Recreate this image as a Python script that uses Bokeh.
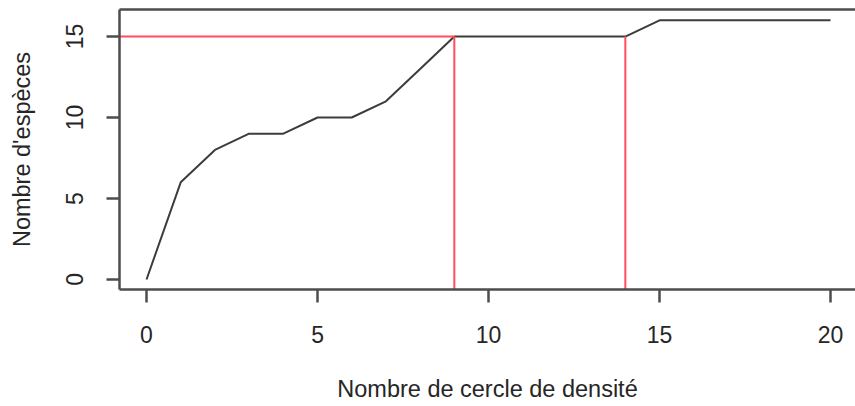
from bokeh.plotting import figure
from bokeh.models import Range1d, FixedTicker, LinearAxis
from bokeh.embed import file_html
from bokeh.resources import INLINE

# ---- data ----
circles = [0, 1, 2, 3, 4, 5, 6, 7, 8, 9, 10, 11, 12, 13, 14, 15, 16, 17, 18, 19, 20]
species = [0, 6, 8, 9, 9, 10, 10, 11, 13, 15, 15, 15, 15, 15, 15, 16, 16, 16, 16, 16, 16]
threshold_species = 15
cut_circles = [9, 14]
x_ticks = [0, 5, 10, 15, 20]
y_ticks = [0, 5, 10, 15]
x_label = "Nombre de cercle de densité"
y_label = "Nombre d'espèces"

FONT = "Liberation Sans"
TXT = "#262626"
FRAME = "#4d4d4d"

p = figure(width=855, height=406, output_backend="svg", toolbar_location=None,
           x_range=Range1d(-0.79, 20.73), y_range=Range1d(-0.62, 16.67),
           x_axis_location=None, y_axis_location=None)
p.min_border_left = 119
p.min_border_top = 9
p.min_border_right = 0
p.min_border_bottom = 117
p.outline_line_color = None
p.grid.visible = False
p.background_fill_color = "white"
p.border_fill_color = "white"

def style_axis(ax, ticks):
    ax.ticker = FixedTicker(ticks=ticks)
    ax.axis_line_color = FRAME
    ax.axis_line_width = 2.5
    ax.major_tick_line_color = FRAME
    ax.major_tick_line_width = 2.5
    ax.major_tick_out = 13
    ax.major_tick_in = 0
    ax.minor_tick_out = 0
    ax.minor_tick_in = 0
    ax.major_label_text_font = FONT
    ax.major_label_text_font_size = "23px"
    ax.major_label_text_color = TXT
    ax.major_label_standoff = 23
    ax.axis_label_text_font = FONT
    ax.axis_label_text_font_size = "23.5px"
    ax.axis_label_text_font_style = "normal"
    ax.axis_label_text_color = TXT

xaxis = LinearAxis(axis_label=x_label)
style_axis(xaxis, x_ticks)
xaxis.axis_label_standoff = 30
p.add_layout(xaxis, "below")

yaxis = LinearAxis(axis_label=y_label)
style_axis(yaxis, y_ticks)
yaxis.major_label_orientation = "vertical"
yaxis.axis_label_standoff = 29
p.add_layout(yaxis, "left")

topaxis = LinearAxis(ticker=FixedTicker(ticks=[]))
topaxis.axis_line_color = FRAME
topaxis.axis_line_width = 2.5
topaxis.major_tick_out = 0
topaxis.major_tick_in = 0
topaxis.minor_tick_out = 0
topaxis.minor_tick_in = 0
topaxis.major_label_standoff = 0
topaxis.major_label_text_font_size = "0px"
p.add_layout(topaxis, "above")

# species accumulation curve
p.line(circles, species, line_color="#3c3c3c", line_width=2)

# red reference lines
p.segment(x0=[-1], y0=[threshold_species], x1=[cut_circles[0]], y1=[threshold_species],
          line_color="#ff4d5c", line_width=2)
p.segment(x0=cut_circles, y0=[-1] * len(cut_circles), x1=cut_circles,
          y1=[threshold_species] * len(cut_circles),
          line_color="#ff4d5c", line_width=2)

open("out.html", "w").write(file_html(p, INLINE))
